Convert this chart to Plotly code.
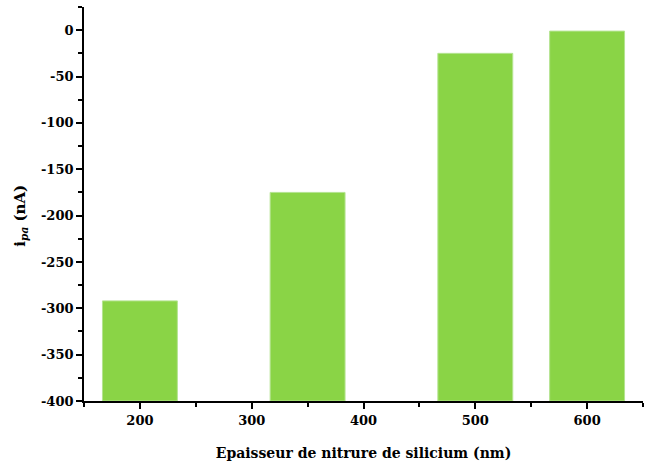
import plotly.graph_objects as go

thickness_nm = [200, 350, 500, 600]
ipa_nA = [-292, -175, -25, -1]
baseline = -400
y_ticks = [0, -50, -100, -150, -200, -250, -300, -350, -400]
y_tick_labels = ["0", "-50", "-100", "-150", "-200", "-250", "-300", "-350", "-400"]
x_ticks = [200, 300, 400, 500, 600]
x_tick_labels = ["200", "300", "400", "500", "600"]

font_family = "DejaVu Serif"

fig = go.Figure()
fig.add_trace(go.Bar(
    x=thickness_nm,
    y=[v - baseline for v in ipa_nA],
    base=baseline,
    width=67,
    marker=dict(color="#8AD446", line=dict(color="#B4E490", width=1)),
))

fig.update_layout(
    width=649, height=464,
    margin=dict(l=84, r=6, t=7, b=63, autoexpand=False),
    plot_bgcolor="white", paper_bgcolor="white",
    showlegend=False,
    font=dict(family=font_family, color="black"),
)
fig.add_annotation(
    text="<b>i<sub><i>pa</i></sub> (nA)</b>",
    xref="paper", yref="paper", x=-0.113, y=0.47,
    xanchor="center", yanchor="middle", textangle=-90, showarrow=False,
    font=dict(size=15, family=font_family, color="black"),
)
fig.update_xaxes(
    automargin=False,
    range=[150, 650],
    tickvals=x_ticks, ticktext=["<b>%s</b>" % t for t in x_tick_labels],
    ticks="outside", ticklen=6, tickwidth=1.5, tickcolor="black",
    minor=dict(ticks="outside", ticklen=4, tickwidth=1.5, tickcolor="black", dtick=50, tick0=150),
    showline=True, linecolor="black", linewidth=1.8,
    showgrid=False, zeroline=False,
    tickfont=dict(size=13, family=font_family),
    title=dict(text="<b>Epaisseur de nitrure de silicium (nm)</b>", font=dict(size=14, family=font_family), standoff=22),
)
fig.update_yaxes(
    automargin=False,
    range=[-400, 25],
    tickvals=y_ticks, ticktext=["<b>%s</b>" % t for t in y_tick_labels],
    ticks="outside", ticklen=6, tickwidth=1.5, tickcolor="black",
    minor=dict(ticks="outside", ticklen=4, tickwidth=1.5, tickcolor="black", dtick=25, tick0=0),
    showline=True, linecolor="black", linewidth=1.8,
    showgrid=False, zeroline=False,
    tickfont=dict(size=13, family=font_family),
)

fig.write_html("out.html", config={"displayModeBar": False},
               post_script="document.body.style.margin='0';")
